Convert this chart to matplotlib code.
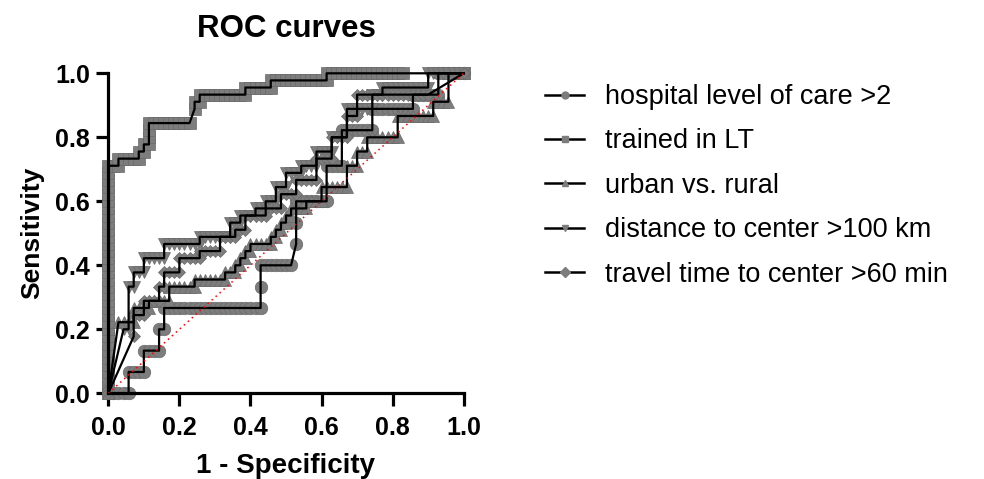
import numpy as np
import matplotlib
matplotlib.use('Agg')
import matplotlib.pyplot as plt
from matplotlib.lines import Line2D

plt.rcParams['font.family'] = ['Liberation Sans', 'DejaVu Sans']

# number of negative / positive cases behind every curve
N_NEG = 70
N_POS = 45

# each run: (number of cut-offs, false positives added, true positives added)
hospital_runs = [(4, 1, 0), (1, 0, 3), (3, 1, 0), (1, 0, 3), (3, 1, 0), (1, 0, 3),
                 (1, 1, 0), (1, 0, 3), (19, 1, 0), (1, 0, 3), (1, 0, 3), (6, 1, 0),
                 (1, 1, 3), (1, 0, 3), (1, 0, 3), (6, 1, 0), (1, 0, 5), (3, 1, 0),
                 (1, 0, 5), (6, 1, 0), (1, 0, 3), (8, 1, 0), (1, 0, 2), (5, 1, 0),
                 (1, 0, 3), (5, 1, 0)]
trained_runs = [(32, 0, 1), (2, 1, 0), (1, 0, 1), (4, 1, 0), (1, 0, 1), (1, 1, 0),
                (1, 0, 1), (1, 1, 0), (1, 0, 1), (1, 0, 1), (1, 0, 1), (8, 1, 0),
                (1, 1, 2), (1, 0, 1), (1, 1, 0), (1, 0, 1), (9, 1, 0), (1, 0, 1),
                (5, 1, 0), (1, 0, 1), (11, 1, 0), (1, 0, 1), (15, 1, 0), (1, 12, 0)]
urban_runs = [(1, 2, 10), (3, 1, 0), (1, 0, 2), (3, 1, 0), (1, 0, 1), (4, 1, 0),
              (1, 0, 2), (5, 1, 0), (1, 0, 1), (6, 1, 0), (1, 0, 1), (2, 1, 0),
              (1, 0, 1), (1, 1, 0), (1, 0, 1), (1, 1, 0), (1, 0, 1), (1, 1, 0),
              (1, 0, 1), (4, 1, 0), (1, 0, 1), (1, 1, 0), (1, 0, 1), (1, 1, 0),
              (1, 0, 1), (1, 1, 0), (1, 0, 1), (1, 1, 0), (1, 0, 1), (3, 1, 0),
              (1, 0, 1), (3, 1, 0), (1, 0, 2), (5, 1, 0), (1, 0, 3), (2, 1, 0),
              (1, 0, 2), (2, 1, 0), (1, 0, 2), (6, 1, 0), (1, 0, 3), (7, 1, 0),
              (1, 0, 2), (3, 1, 0), (1, 0, 4), (3, 1, 0)]
distance_runs = [(1, 3, 9), (1, 1, 0), (1, 0, 6), (1, 1, 0), (1, 0, 2), (2, 1, 0),
                 (1, 0, 2), (4, 1, 0), (1, 0, 2), (7, 1, 0), (1, 0, 1), (6, 1, 0),
                 (1, 0, 2), (2, 1, 0), (1, 0, 1), (3, 1, 0), (1, 0, 1), (2, 1, 0),
                 (1, 0, 1), (2, 1, 0), (1, 0, 2), (2, 1, 0), (1, 0, 2), (3, 1, 0),
                 (1, 0, 1), (3, 1, 0), (1, 0, 2), (3, 1, 0), (1, 0, 2), (3, 1, 0),
                 (1, 0, 4), (5, 1, 0), (1, 0, 2), (2, 1, 0), (1, 0, 1), (9, 1, 0),
                 (1, 0, 2), (7, 1, 0)]
travel_runs = [(1, 5, 8), (1, 0, 3), (2, 1, 0), (1, 0, 2), (3, 1, 0), (1, 0, 2),
               (1, 1, 0), (1, 0, 2), (3, 1, 0), (1, 0, 2), (4, 1, 0), (1, 0, 1),
               (4, 1, 0), (1, 0, 2), (3, 1, 0), (1, 0, 1), (2, 1, 0), (1, 0, 2),
               (4, 1, 0), (1, 0, 1), (3, 1, 0), (1, 0, 2), (3, 1, 0), (1, 0, 2),
               (4, 1, 0), (1, 0, 3), (3, 1, 0), (1, 0, 3), (3, 1, 0), (1, 0, 3),
               (2, 1, 0), (1, 0, 3), (14, 1, 0), (1, 7, 3)]

labels = ['hospital level of care >2', 'trained in LT', 'urban vs. rural',
          'distance to center >100 km', 'travel time to center >60 min']
all_runs = [hospital_runs, trained_runs, urban_runs, distance_runs, travel_runs]
markers = ['o', 's', '^', 'v', 'D']
msizes = [9, 8, 9, 9, 6]


def roc_points(runs):
    fp, tp = [0], [0]
    for n, dfp, dtp in runs:
        for _ in range(n):
            fp.append(fp[-1] + dfp)
            tp.append(tp[-1] + dtp)
    return np.array(fp) / N_NEG, np.array(tp) / N_POS


fig = plt.figure(figsize=(9.84, 4.79), dpi=100)
ax = fig.add_axes([108.3 / 984, 85.7 / 479, 355.4 / 984, 320 / 479])

grey = '#7d7d7d'
for runs, m, ms in zip(all_runs, markers, msizes):
    x, y = roc_points(runs)
    ax.plot(x, y, ls='none', marker=m, ms=ms, color=grey, mec='#6a6a6a',
            mew=0.5, zorder=2, clip_on=False)
for runs in all_runs:
    x, y = roc_points(runs)
    ax.plot(x, y, color='black', lw=1.6, zorder=3, clip_on=False)

ax.plot([0, 1], [0, 1], color='red', ls=(0, (1, 2.5)), lw=1.1, zorder=4)

ax.set_xlim(0, 1)
ax.set_ylim(0, 1)
ticks = [0.0, 0.2, 0.4, 0.6, 0.8, 1.0]
ax.set_xticks(ticks)
ax.set_yticks(ticks)
ax.set_xticklabels(['%.1f' % t for t in ticks], fontweight='bold', fontsize=18)
ax.set_yticklabels(['%.1f' % t for t in ticks], fontweight='bold', fontsize=18)
for s in ['top', 'right']:
    ax.spines[s].set_visible(False)
for s in ['left', 'bottom']:
    ax.spines[s].set_linewidth(2.3)
ax.tick_params(width=2.3, length=9, colors='black')
ax.tick_params(axis='x', pad=7)
ax.tick_params(axis='y', pad=4)

ax.set_xlabel('1 - Specificity', fontsize=20, fontweight='bold', labelpad=10)
ax.set_ylabel('Sensitivity', fontsize=19, fontweight='bold', labelpad=8)
ax.set_title('ROC curves', fontsize=22.5, fontweight='bold', pad=26)

handles = [Line2D([0], [0], color='black', lw=1.8, marker=m, ms=5,
                  mfc=grey, mec=grey) for m in markers]
fig.legend(handles, labels, loc='upper left', bbox_to_anchor=(545 / 984, 1 - 84 / 479),
           frameon=False, fontsize=19.5, handlelength=1.45, handletextpad=0.75,
           labelspacing=0.68, borderpad=0, borderaxespad=0)

fig.savefig('out.png', dpi=100)
